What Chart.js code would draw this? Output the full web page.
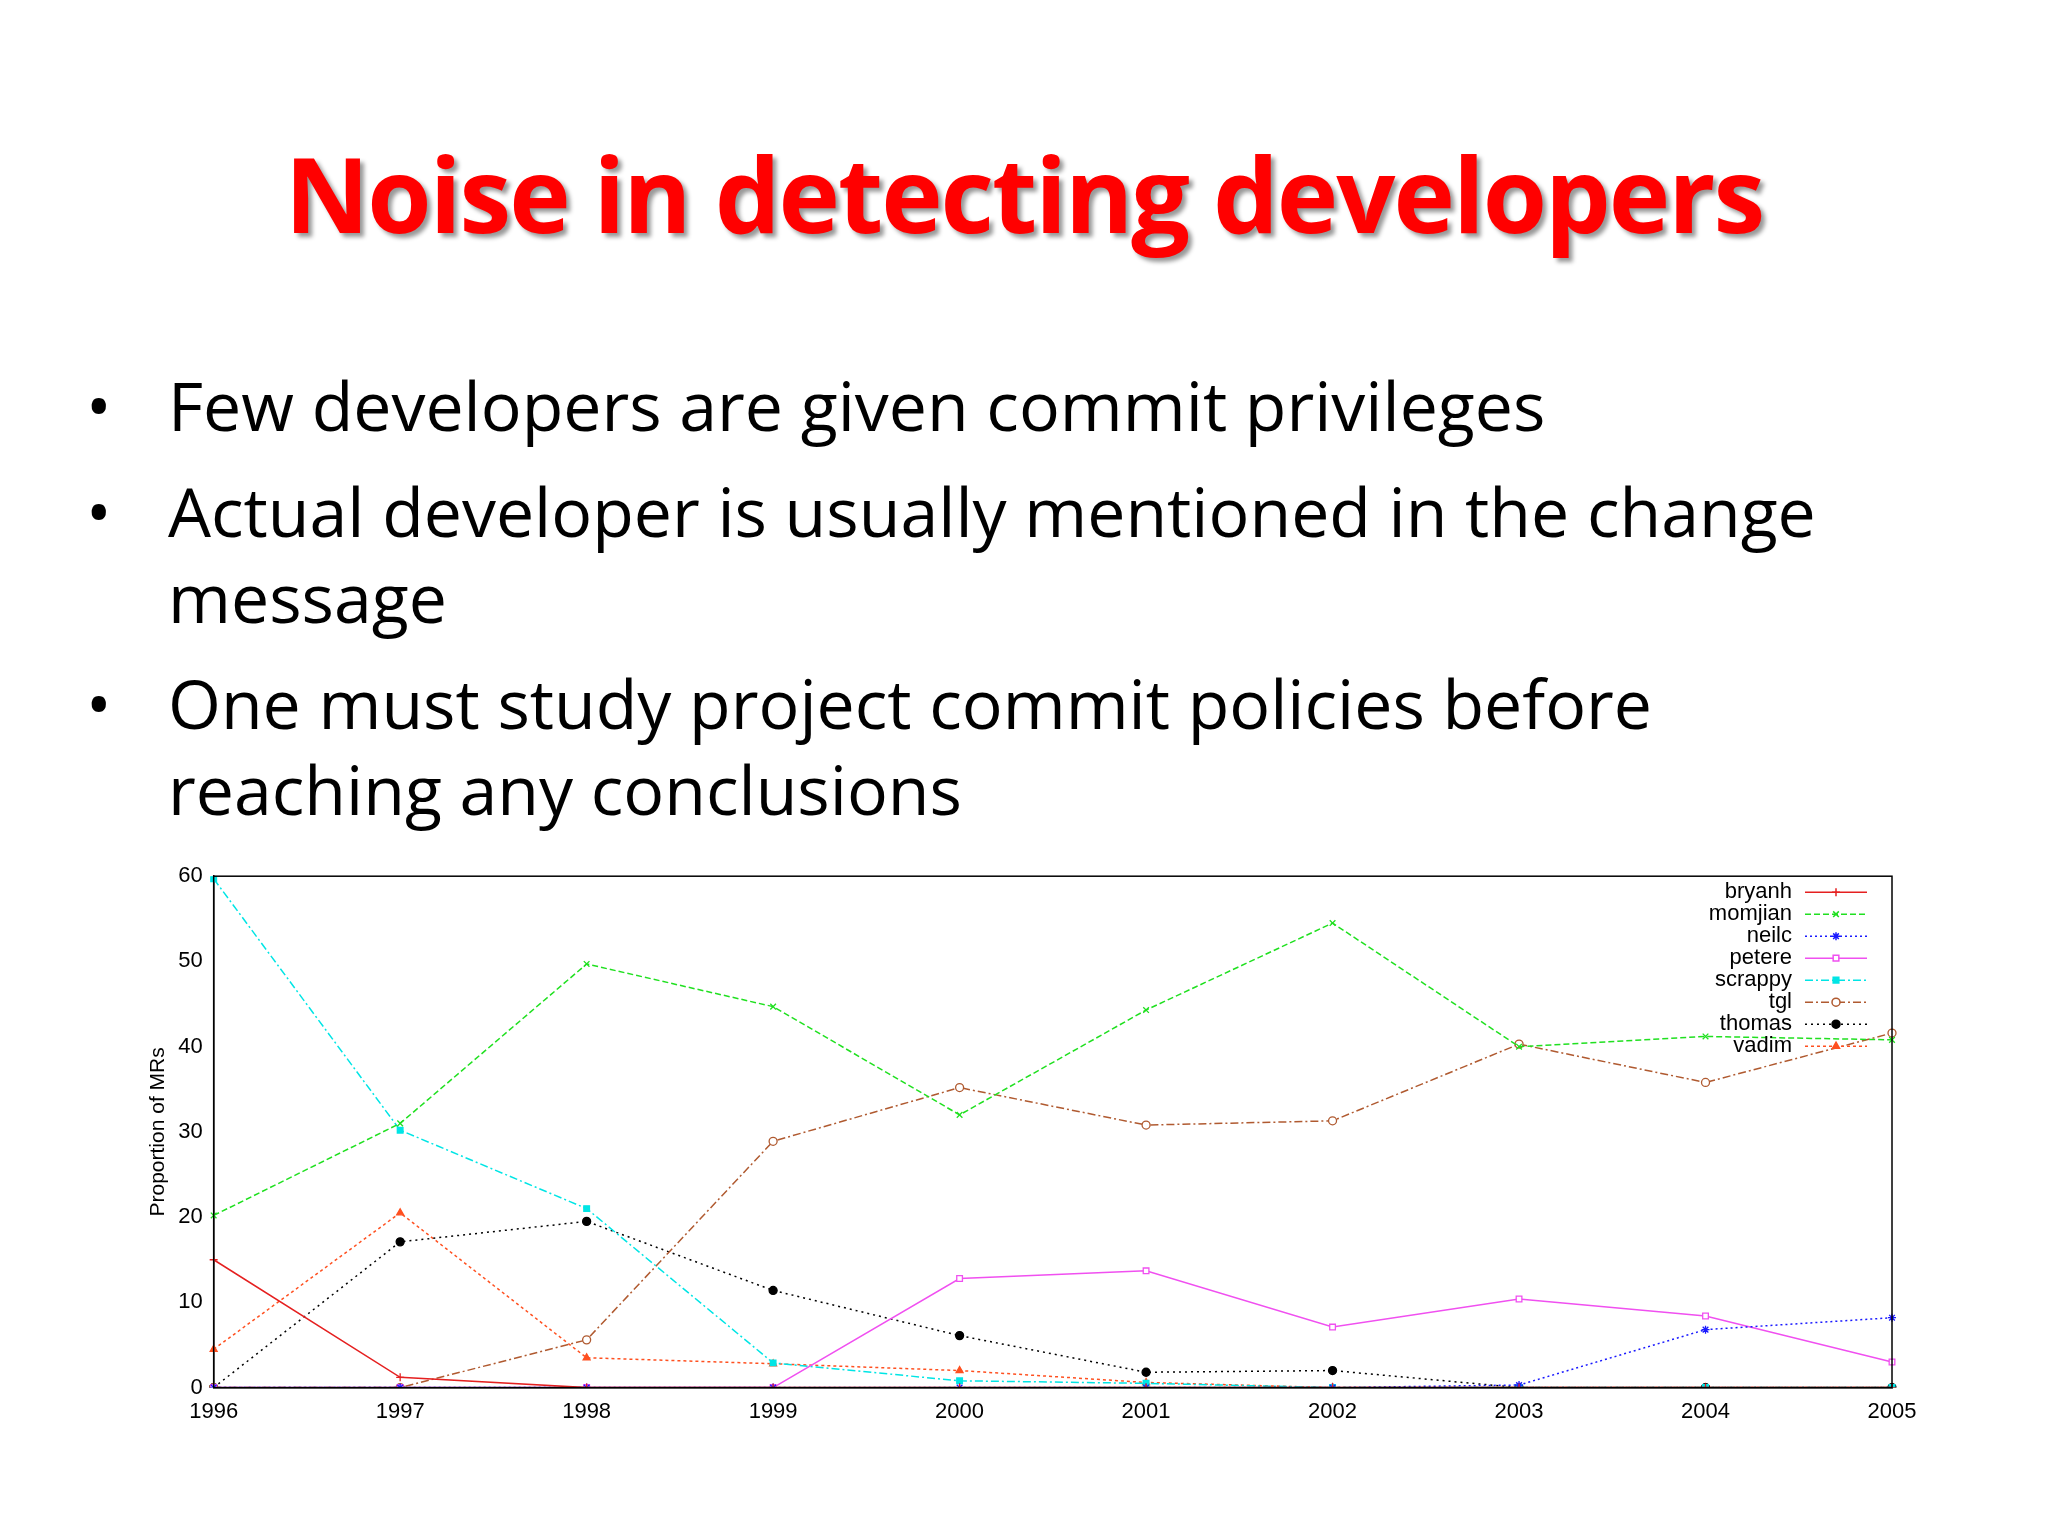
<!DOCTYPE html>
<html>
<head>
<meta charset="utf-8">
<script src="https://cdn.jsdelivr.net/npm/chart.js@4"></script>
<style>
  body { margin:0; width:2048px; height:1536px; background:#fff; font-family:"Open Sans", sans-serif; position:relative; overflow:hidden; }
  h1 { position:absolute; top:122px; left:0; width:2048px; text-align:center; margin:0; font-size:104px; font-weight:700; color:#f00; text-shadow:4px 4px 4px #999; letter-spacing:-2px; }
  ul { position:absolute; top:362px; left:80px; margin:0; padding:0; list-style:none; font-size:68px; color:#000; width:1800px; line-height:86px; }
  li { position:relative; padding-left:88px; margin-bottom:20px; }
  li:before { content:"•"; position:absolute; left:6px; }
  #wrap { position:absolute; left:120px; top:860px; width:1830px; height:568px; }
</style>
</head>
<body>
<h1>Noise in detecting developers</h1>
<ul>
  <li>Few developers are given commit privileges</li>
  <li>Actual developer is usually mentioned in the change message</li>
  <li>One must study project commit policies before reaching any conclusions</li>
</ul>
<div id="wrap"><canvas id="myChart"></canvas></div>
<script>
const years = ['1996','1997','1998','1999','2000','2001','2002','2003','2004','2005'];
const bryanh  = [15, 1.2, 0, 0, 0, 0, 0, 0, 0, 0];
const momjian = [20.2, 31, 49.7, 44.7, 32, 44.3, 54.5, 40, 41.2, 40.8];
const neilc   = [0, 0, 0, 0, 0, 0, 0, 0.3, 6.8, 8.2];
const petere  = [0, 0, 0, 0, 12.8, 13.7, 7.1, 10.4, 8.4, 3];
const scrappy = [59.7, 30.2, 21, 2.9, 0.8, 0.5, 0, 0, 0, 0];
const tgl     = [0, 0, 5.6, 28.9, 35.2, 30.8, 31.3, 40.3, 35.8, 41.6];
const thomas  = [0, 17.1, 19.5, 11.4, 6.1, 1.8, 2, 0, 0, 0];
const vadim   = [4.5, 20.5, 3.5, 2.8, 2, 0.6, 0, 0, 0, 0];
const yTicks  = [0, 10, 20, 30, 40, 50, 60];

function ds(label, data, color, dash, pt, fill) {
  return { label: label, data: data, borderColor: color, backgroundColor: fill ? color : '#fff',
    borderWidth: 1.5, borderDash: dash, pointStyle: pt, pointRadius: 4, pointBorderColor: color,
    pointBorderWidth: 1.3, tension: 0 };
}

// gnuplot style legend: right aligned names with line sample to the right
const gnuLegend = {
  id: 'gnuLegend',
  afterDraw(chart) {
    const c = chart.ctx, a = chart.chartArea;
    c.save();
    c.font = '22px "Liberation Sans", sans-serif';
    c.textAlign = 'right'; c.textBaseline = 'middle';
    chart.data.datasets.forEach((d, i) => {
      const y = a.top + 16 + i * 22;
      const xr = a.right - 25;
      c.fillStyle = '#000';
      c.fillText(d.label, xr - 75, y);
      c.strokeStyle = d.borderColor; c.lineWidth = 1.5;
      c.setLineDash(d.borderDash || []);
      c.beginPath(); c.moveTo(xr - 62, y); c.lineTo(xr, y); c.stroke();
      c.setLineDash([]);
      c.fillStyle = d.backgroundColor;
      c.strokeStyle = d.borderColor;
      Chart.helpers.drawPoint(c, { pointStyle: d.pointStyle, radius: 4, borderWidth: 1.3 }, xr - 31, y);
    });
    c.restore();
  }
};

new Chart(document.getElementById('myChart'), {
  type: 'line',
  data: { labels: years, datasets: [
    ds('bryanh', bryanh, '#e52020', [], 'cross', true),
    ds('momjian', momjian, '#20e020', [6, 3], 'crossRot', true),
    ds('neilc', neilc, '#1a1aff', [2, 3], 'star', true),
    ds('petere', petere, '#f050f0', [], 'rect', false),
    ds('scrappy', scrappy, '#00e5e5', [8, 3, 2, 3], 'rect', true),
    ds('tgl', tgl, '#b05a30', [8, 3, 2, 3], 'circle', false),
    ds('thomas', thomas, '#000', [2, 4], 'circle', true),
    ds('vadim', vadim, '#ff5020', [3, 3], 'triangle', true)
  ]},
  options: {
    responsive: true, maintainAspectRatio: false, animation: false,
    layout: { padding: { left: 22, right: 58, top: 8 } },
    plugins: { legend: { display: false }, tooltip: { enabled: false } },
    scales: {
      x: { offset: false, grid: { display: false }, border: { color: '#000', width: 1.5 },
           ticks: { color: '#000', font: { size: 22, family: 'Liberation Sans' }, maxRotation: 0 } },
      y: { min: 0, max: 60, afterBuildTicks: s => { s.ticks = yTicks.map(v => ({ value: v })); },
           grid: { display: false }, border: { color: '#000', width: 1.5 },
           title: { display: true, text: 'Proportion of MRs', color: '#000', font: { size: 21, family: 'Liberation Sans' } },
           ticks: { color: '#000', font: { size: 22, family: 'Liberation Sans' } } }
    }
  },
  plugins: [gnuLegend, {
    id: 'frame',
    afterDraw(chart) {
      const c = chart.ctx, a = chart.chartArea;
      c.save(); c.strokeStyle = '#000'; c.lineWidth = 1.5;
      c.strokeRect(a.left, a.top, a.right - a.left, a.bottom - a.top);
      c.restore();
    }
  }]
});
</script>
</body>
</html>
